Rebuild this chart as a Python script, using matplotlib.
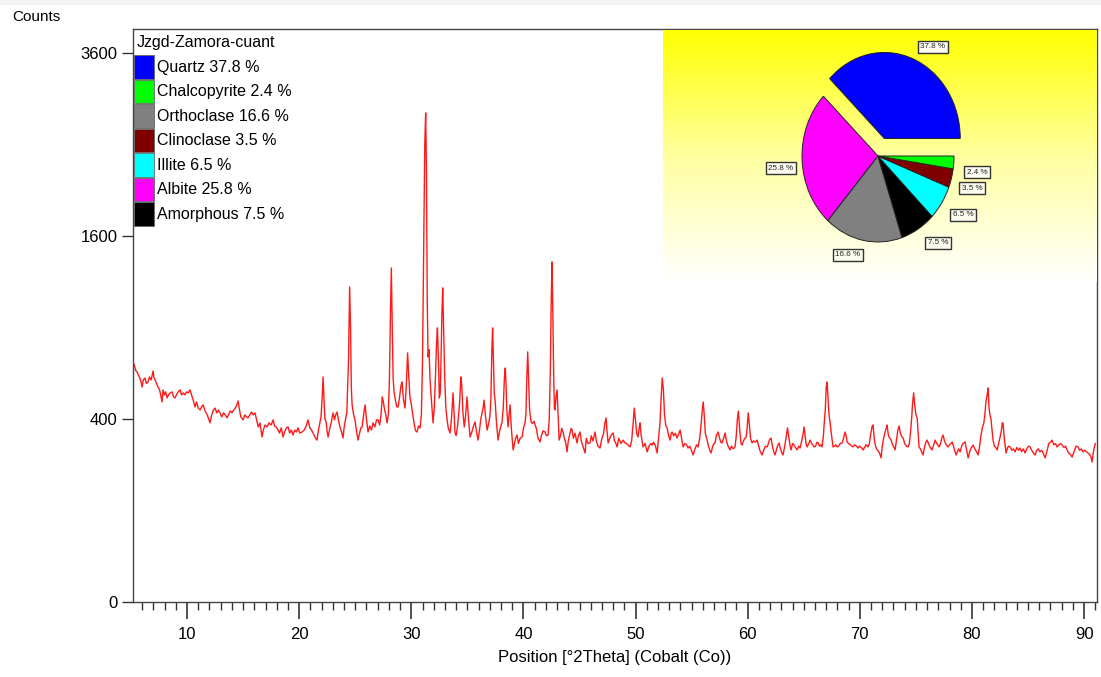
import numpy as np
import matplotlib
matplotlib.use("Agg")
import matplotlib.pyplot as plt
from matplotlib.patches import Rectangle

plt.rcParams['font.family'] = ['Liberation Sans', 'DejaVu Sans']

## == data ==
# (position [°2Theta], counts)
pattern_points = [
    (5.20,682),(5.30,671),(5.42,640),(5.54,632),(5.66,615),(5.78,600),(5.90,578),(5.99,552),(6.10,589),(6.25,599),
    (6.38,570),(6.52,578),(6.65,605),(6.80,589),(6.97,637),(7.05,599),(7.15,589),(7.28,570),(7.41,552),(7.55,537),
    (7.65,512),(7.77,478),(7.86,537),(7.98,512),(8.10,527),(8.22,497),(8.35,512),(8.50,522),(8.66,527),(8.80,502),
    (8.93,497),(9.05,512),(9.20,527),(9.38,537),(9.50,512),(9.65,522),(9.82,512),(9.95,527),(10.10,522),(10.27,537),
    (10.40,512),(10.55,487),(10.71,454),(10.85,478),(11.00,449),(11.16,440),(11.30,454),(11.43,464),(11.60,436),(11.80,418),
    (12.05,383),(12.20,418),(12.35,440),(12.50,449),(12.65,427),(12.80,440),(12.94,427),(13.10,409),(13.25,427),(13.40,418),
    (13.57,405),(13.70,418),(13.85,436),(14.01,427),(14.15,440),(14.30,449),(14.45,464),(14.55,483),(14.68,440),(14.80,409),
    (15.00,396),(15.15,418),(15.30,409),(15.44,405),(15.60,418),(15.75,431),(15.90,418),(16.06,427),(16.20,396),(16.35,366),
    (16.50,383),(16.69,325),(16.80,353),(16.95,374),(17.14,366),(17.30,383),(17.50,374),(17.67,396),(17.80,370),(17.95,366),
    (18.12,353),(18.25,341),(18.40,362),(18.56,325),(18.70,345),(18.85,362),(19.01,366),(19.15,341),(19.30,353),(19.45,333),
    (19.60,353),(19.75,345),(19.90,362),
    (20.05,341),(20.26,345),(20.45,353),(20.62,370),(20.79,396),(20.95,362),(21.10,353),(21.24,341),(21.40,325),(21.59,313),
    (21.72,353),(21.86,387),(21.95,410),(22.05,500),(22.13,605),(22.22,480),(22.30,400),(22.40,387),(22.50,345),(22.58,325),
    (22.70,353),(22.85,383),(23.02,427),(23.15,396),(23.25,418),(23.38,431),(23.50,396),(23.64,366),(23.78,345),(23.91,321),
    (24.00,360),(24.09,387),(24.25,430),(24.40,700),(24.50,1185),(24.58,900),(24.65,550),(24.72,464),(24.85,420),(24.98,396),
    (25.10,353),(25.25,313),(25.40,341),(25.50,362),(25.61,366),(25.75,420),(25.88,464),(26.00,400),(26.14,345),(26.30,370),
    (26.45,353),(26.59,383),(26.75,366),(26.90,396),(27.03,396),(27.18,374),(27.30,420),(27.41,502),(27.50,480),(27.62,440),
    (27.72,420),(27.84,383),(27.95,420),(28.05,600),(28.14,1000),(28.22,1332),(28.30,900),(28.38,600),(28.46,527),(28.60,480),
    (28.72,454),(28.82,454),(28.95,500),(29.08,560),(29.17,578),(29.30,490),(29.44,449),(29.55,560),(29.67,741),(29.78,600),
    (29.88,500),(29.98,473),(30.10,430),(30.25,380),(30.38,350),(30.51,345),(30.65,370),(30.78,362),(30.90,420),(31.00,700),
    (31.10,1500),(31.20,2500),(31.28,2856),(31.35,2200),(31.42,1100),(31.49,717),(31.58,760),(31.67,589),(31.80,480),(31.94,383),
    (32.05,450),(32.15,600),(32.25,800),(32.33,897),(32.42,700),(32.50,497),(32.58,520),(32.65,700),(32.73,1000),(32.80,1178),
    (32.88,900),(32.98,600),(33.08,450),(33.19,396),(33.30,360),(33.46,341),(33.58,400),(33.72,522),(33.82,420),(33.90,341),
    (34.00,330),(34.15,380),(34.30,470),(34.42,605),(34.50,560),(34.60,430),(34.72,366),
    (34.85,420),(34.97,502),(35.10,400),(35.24,325),(35.40,345),(35.55,370),(35.69,387),(35.82,345),(35.95,313),(36.10,360),
    (36.20,400),(36.31,427),(36.40,450),(36.49,487),(36.60,420),(36.76,353),(36.90,380),(37.02,418),(37.10,500),(37.18,750),
    (37.25,897),(37.32,700),(37.40,520),(37.47,487),(37.60,380),(37.74,313),(37.88,350),(38.00,370),(38.09,387),(38.20,450),
    (38.30,600),(38.38,654),(38.45,560),(38.52,440),(38.63,366),(38.72,420),(38.81,464),(38.92,360),(39.08,276),(39.20,300),
    (39.30,320),(39.43,333),(39.55,300),(39.70,320),(39.88,325),(40.00,360),(40.14,383),(40.22,420),(40.30,600),(40.38,747),
    (40.46,600),(40.55,440),(40.68,387),(40.80,380),(40.95,390),(41.04,374),(41.15,360),(41.30,320),(41.48,306),(41.60,330),
    (41.75,350),(41.93,345),(42.05,330),(42.20,333),(42.30,400),(42.40,650),(42.48,1100),(42.55,1381),(42.62,1000),(42.70,600),
    (42.76,450),(42.82,440),(42.90,500),(43.00,537),(43.10,400),(43.18,313),(43.30,330),(43.42,360),(43.53,345),(43.65,320),
    (43.78,300),(43.89,269),(44.00,310),(44.15,340),(44.25,360),(44.34,353),(44.45,320),(44.60,340),(44.78,302),(44.90,330),
    (45.05,345),(45.15,310),(45.30,290),(45.50,265),(45.60,320),(45.75,300),(45.94,302),(46.05,330),(46.20,310),(46.39,345),
    (46.50,310),(46.65,290),(46.83,283),(47.00,320),(47.15,340),(47.25,380),(47.37,405),(47.45,350),(47.55,302),(47.70,320),
    (47.85,335),(48.00,341),(48.12,310),(48.25,300),(48.35,287),(48.50,320),(48.70,300),(48.89,313),(49.05,302),(49.20,300),
    (49.33,294),
    (49.51,287),(49.65,310),(49.78,380),(49.88,449),(49.98,400),(50.10,340),(50.22,325),(50.32,360),(50.40,383),(50.50,330),
    (50.67,287),(50.85,300),(51.03,269),(51.20,290),(51.35,300),(51.47,294),(51.60,305),(51.78,290),(51.92,265),(52.05,320),
    (52.18,383),(52.28,500),(52.38,599),(52.48,540),(52.58,420),(52.70,370),(52.81,362),(52.95,330),(53.08,313),(53.18,340),
    (53.26,345),(53.40,330),(53.55,340),(53.70,321),(53.82,335),(53.97,353),(54.10,320),(54.24,287),(54.40,300),(54.55,295),
    (54.68,283),(54.82,290),(54.98,275),(55.13,258),(55.30,280),(55.45,295),(55.57,287),(55.72,320),(55.85,380),(55.95,440),
    (56.03,478),(56.12,420),(56.22,340),(56.38,313),(56.50,290),(56.62,275),(56.73,265),(56.88,290),(57.00,300),(57.09,302),
    (57.20,330),(57.36,345),(57.50,320),(57.60,305),(57.71,302),(57.85,320),(57.98,341),(58.10,310),(58.25,290),(58.43,276),
    (58.55,290),(58.70,280),(58.87,287),(58.98,330),(59.08,400),(59.17,435),(59.28,360),(59.40,300),(59.50,294),(59.62,310),
    (59.75,320),(59.86,325),(59.95,360),(60.04,427),(60.14,380),(60.25,320),(60.39,302),(60.52,310),(60.68,305),(60.84,313),
    (60.98,290),(61.12,270),(61.28,258),(61.42,275),(61.58,290),(61.73,287),(61.85,300),(61.95,315),(62.08,321),(62.20,290),
    (62.32,270),(62.44,258),(62.58,280),(62.70,295),(62.80,302),(62.92,280),(63.05,265),(63.15,258),(63.30,290),(63.45,330),
    (63.55,362),(63.65,330),(63.78,290),(63.87,276),(64.00,300),(64.12,295),(64.23,287),
    (64.40,276),(64.55,290),(64.67,283),(64.82,310),(64.95,340),(65.03,366),(65.12,330),(65.20,300),(65.30,287),(65.45,300),
    (65.56,313),(65.70,300),(65.80,295),(65.92,287),(66.05,290),(66.18,305),(66.28,302),(66.40,290),(66.52,295),(66.63,287),
    (66.75,330),(66.85,400),(66.92,440),(67.00,550),(67.08,578),(67.16,500),(67.25,420),(67.35,383),(67.48,330),(67.61,287),
    (67.75,290),(67.85,295),(67.97,287),(68.10,290),(68.25,300),(68.42,302),(68.55,320),(68.68,345),(68.78,330),(68.86,306),
    (69.00,300),(69.15,295),(69.28,290),(69.40,287),(69.52,295),(69.70,290),(69.84,283),(69.98,290),(70.14,285),(70.29,276),
    (70.42,285),(70.55,295),(70.73,287),(70.85,300),(70.98,340),(71.10,370),(71.18,374),(71.28,320),(71.40,290),(71.54,276),
    (71.68,270),(71.80,260),(71.89,248),(72.00,290),(72.12,320),(72.25,345),(72.35,360),(72.43,374),(72.55,330),(72.68,320),
    (72.79,313),(72.92,295),(73.05,285),(73.14,276),(73.26,310),(73.38,350),(73.50,370),(73.62,340),(73.76,325),(73.86,321),
    (74.00,300),(74.15,290),(74.30,287),(74.42,300),(74.55,360),(74.63,409),(74.70,470),(74.80,522),(74.90,460),(75.00,420),
    (75.11,405),(75.20,340),(75.28,287),(75.40,280),(75.50,270),(75.64,258),(75.78,290),(75.90,305),(76.00,313),(76.12,300),
    (76.28,285),(76.44,276),(76.55,290),(76.71,313),(76.85,300),(76.95,295),(77.07,287),(77.20,300),(77.30,320),(77.42,333),
    (77.55,310),(77.70,295),(77.87,287),(78.00,295),(78.12,300),(78.23,306),(78.35,290),(78.45,275),(78.58,258),(78.70,270),
    (78.82,280),(78.94,269),
    (79.08,290),(79.20,300),(79.39,306),(79.50,280),(79.66,248),(79.80,270),(79.95,285),(80.10,294),(80.25,280),(80.40,270),
    (80.55,258),(80.68,290),(80.80,330),(80.92,362),(81.05,380),(81.15,420),(81.25,480),(81.35,512),(81.44,547),(81.52,450),
    (81.60,420),(81.70,396),(81.80,350),(81.88,313),(82.00,290),(82.12,285),(82.24,276),(82.38,300),(82.51,325),(82.62,350),
    (82.70,383),(82.77,383),(82.88,320),(83.04,265),(83.18,285),(83.28,290),(83.40,287),(83.55,275),(83.70,280),(83.84,269),
    (84.00,285),(84.15,275),(84.29,283),(84.42,270),(84.58,280),(84.74,265),(84.88,280),(85.05,290),(85.18,287),(85.32,275),
    (85.48,265),(85.63,258),(85.78,275),(85.92,280),(86.07,269),(86.22,275),(86.38,262),(86.52,248),(86.68,270),(86.85,300),
    (87.00,305),(87.14,313),(87.30,295),(87.45,300),(87.59,287),(87.75,295),(87.90,300),(88.04,294),(88.20,285),(88.35,290),
    (88.48,276),(88.62,265),(88.78,260),(88.93,251),(89.10,270),(89.28,290),(89.46,287),(89.60,275),(89.75,280),(89.91,269),
    (90.05,275),(90.20,270),(90.36,265),(90.50,260),(90.62,250),(90.71,234),(90.80,260),(90.89,283),(91.00,300),
]

sample_name = 'Jzgd-Zamora-cuant'
phases  = ['Quartz', 'Chalcopyrite', 'Orthoclase', 'Clinoclase', 'Illite', 'Albite', 'Amorphous']
percent = [37.8, 2.4, 16.6, 3.5, 6.5, 25.8, 7.5]
colors  = ['#0000ff', '#00ff00', '#808080', '#800000', '#00ffff', '#ff00ff', '#000000']
pie_order = [0, 5, 2, 6, 4, 3, 1]   # counter-clockwise from 3 o'clock

y_ticks = [0, 400, 1600, 3600]
x_ticks = [10, 20, 30, 40, 50, 60, 70, 80, 90]

W, H = 1101, 677
def fx(px): return px / W
def fy(py): return 1 - py / H

fig = plt.figure(figsize=(W/100, H/100), dpi=100)
fig.patches.append(Rectangle((0, fy(4)), 1, 4/H, transform=fig.transFigure, color='#f3f3f3', zorder=-1))

## == main pattern ==
ax = fig.add_axes([fx(133), fy(602), fx(1097)-fx(133), fy(29)-fy(602)])
pos, cts = np.array(pattern_points).T
ax.plot(pos, cts, color='#ff1a1a', lw=1.0)
ax.set_yscale('function', functions=(lambda v: np.sqrt(np.clip(v, 0, None)), np.square))
ax.set_ylim(0, 3920)
ax.set_xlim(5.18, 91.15)
ax.set_yticks(y_ticks)
ax.set_yticklabels([str(v) for v in y_ticks])
ax.set_xticks(x_ticks)
ax.set_xticks(np.arange(6, 92, 1), minor=True)
ax.tick_params(axis='x', which='major', length=12, width=1.2, direction='out', labelsize=12, pad=6, color='#333')
ax.tick_params(axis='x', which='minor', length=6, width=1, direction='out', color='#333')
ax.tick_params(axis='y', which='major', length=8, width=1, direction='out', labelsize=12, pad=3, color='#333')
ax.tick_params(axis='y', which='minor', length=0)
for s in ax.spines.values():
    s.set_color('#444')
    s.set_linewidth(1)
ax.set_xlabel('Position [°2Theta] (Cobalt (Co))', fontsize=12, labelpad=6)
fig.text(fx(12), fy(17), 'Counts', fontsize=11, va='center', ha='left')

## == legend ==
fig.text(fx(137), fy(42), sample_name, fontsize=11.5, va='center', ha='left')
row_top = 55
row_h = 24.5
for i, (name, pct, col) in enumerate(zip(phases, percent, colors)):
    top = row_top + i*row_h
    fig.patches.append(Rectangle((fx(134), fy(top + row_h - 1)), fx(20), (row_h - 1)/H,
                                 transform=fig.transFigure, fc=col, ec='#666', lw=0.6, zorder=3))
    fig.text(fx(157), fy(top + row_h/2), f'{name} {pct} %', fontsize=11.5, va='center', ha='left')

## == inset with yellow gradient and pie ==
bg = fig.add_axes([fx(663), fy(282), fx(1097)-fx(663), fy(30)-fy(282)])
grad = np.linspace(0, 1, 256).reshape(-1, 1)
yellow_cmap = matplotlib.colors.LinearSegmentedColormap.from_list('yw', ['#ffff00', '#ffffa0', '#ffffff'])
bg.imshow(grad, aspect='auto', cmap=yellow_cmap, extent=[0, 1, 0, 1], origin='upper')
bg.set_axis_off()

pax = fig.add_axes([fx(802), fy(242), fx(954)-fx(802), fy(70)-fy(242)])
vals = [percent[i] for i in pie_order]
cols = [colors[i] for i in pie_order]
explode = [0.22 if i == 0 else 0 for i in pie_order]
wedges, _ = pax.pie(vals, colors=cols, explode=explode, startangle=0, counterclock=True,
                    wedgeprops=dict(edgecolor='#222', linewidth=0.7))
for w in wedges: w.set_clip_on(False)
pax.set_aspect('auto')
pax.set_xlim(-1, 1)
pax.set_ylim(-1, 1)
pax.set_axis_off()

label_pos = {0: (933, 47), 5: (781, 168), 2: (848, 255), 6: (938, 243), 4: (963, 215), 3: (972, 188), 1: (977, 172)}
for i, (px_, py_) in label_pos.items():
    fig.text(fx(px_), fy(py_), f'{percent[i]} %', fontsize=5.8, ha='center', va='center', color='#222',
             bbox=dict(boxstyle='square,pad=0.3', fc='#fbfbf0', ec='#333', lw=1.0))

fig.savefig('out.png', dpi=100)
